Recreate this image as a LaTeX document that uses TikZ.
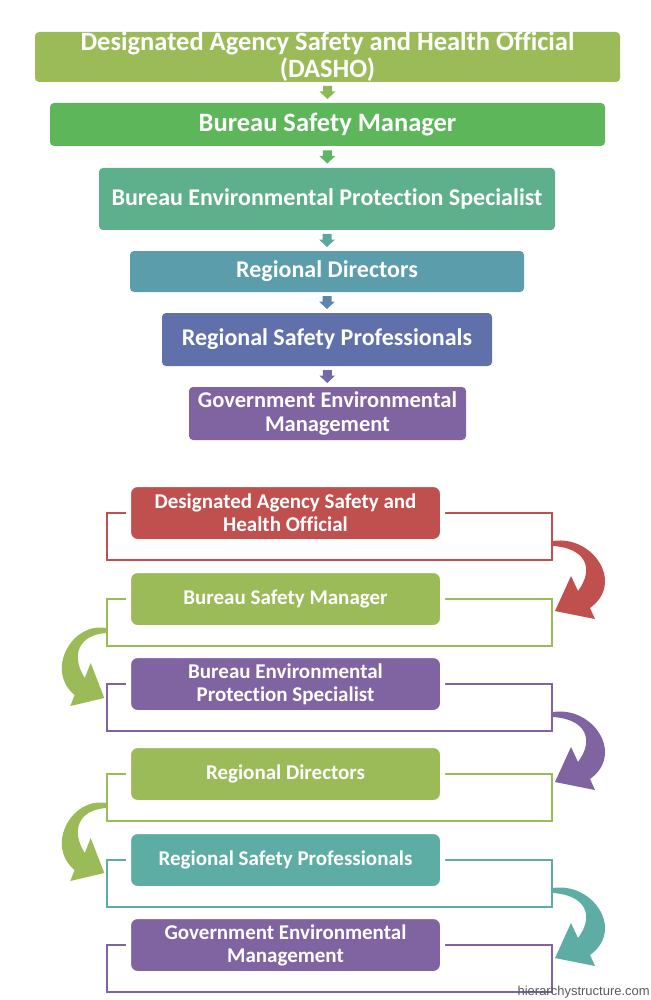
\documentclass[tikz,border=0pt]{standalone}
\usepackage{fontspec}
\setmainfont[Ligatures=NoCommon]{Carlito}
\newfontfamily\wmfont{Liberation Sans}
\usetikzlibrary{calc}
\definecolor{cOlive}{HTML}{9BBB59}
\definecolor{cGreen}{HTML}{5DB75A}
\definecolor{cSea}{HTML}{5DB08B}
\definecolor{cCyan}{HTML}{5B9DAB}
\definecolor{cBlue}{HTML}{6070AA}
\definecolor{cPurple}{HTML}{8064A2}
\definecolor{cRed}{HTML}{C0504D}
\definecolor{cTeal}{HTML}{5EADA5}
\definecolor{aA}{HTML}{8CBA58}
\definecolor{aB}{HTML}{5DB565}
\definecolor{aC}{HTML}{5CA79E}
\definecolor{aD}{HTML}{5D86AC}
\definecolor{aE}{HTML}{7568A7}
\definecolor{wmgray}{HTML}{5A5A5A}
\tikzset{
  tbox/.style={rectangle, rounded corners=4pt, inner sep=0pt, text=white, align=center,
    font=\bfseries\fontsize{24}{26}\selectfont},
  bbox/.style={rectangle, rounded corners=9pt, draw=white, line width=5pt, inner sep=0pt,
    minimum width=314pt, minimum height=57pt, text=white, align=center,
    font=\bfseries\fontsize{21}{23}\selectfont},
  frame/.style={line width=2.5pt},
  downarr/.pic={\fill[pic actions] (-4.5,-6.5) -- (4.5,-6.5) -- (4.5,-1) -- (8,-1) -- (0,6.5) -- (-8,-1) -- (-4.5,-1) -- cycle;},
  curvarr/.pic={\fill[pic actions] (0,-2) .. controls (40,-8) and (72,40) .. (37,65) -- (42,76) -- (2,68) -- (18,33) -- (25,48) .. controls (42,25) and (32,5) .. (0,3) -- cycle;}
}
\begin{document}
\begin{tikzpicture}[x=1pt,y=-1pt]
\useasboundingbox (0,0) rectangle (650,1000);
% ---------- top hierarchy ----------
\node[tbox, fill=cOlive, minimum width=585pt, minimum height=50pt, font=\bfseries\fontsize{26.5}{27}\selectfont] (t1) at (327.5,57) {Designated Agency Safety and Health Official\\(DASHO)};
\node[tbox, fill=cGreen, minimum width=555pt, minimum height=43pt, font=\bfseries\fontsize{26.5}{28}\selectfont] (t2) at (327.5,124.5) {Bureau Safety Manager};
\node[tbox, fill=cSea, minimum width=456pt, minimum height=62pt] (t3) at (327,199) {Bureau Environmental Protection Specialist};
\node[tbox, fill=cCyan, minimum width=394pt, minimum height=41pt] (t4) at (327,271.5) {Regional Directors};
\node[tbox, fill=cBlue, minimum width=330pt, minimum height=53pt] (t5) at (327,339.5) {Regional Safety Professionals};
\node[tbox, fill=cPurple, minimum width=277pt, minimum height=53pt, font=\bfseries\fontsize{22.5}{24}\selectfont] (t6) at (327.5,413.5) {Government Environmental\\Management};
\path ($(t1.south)!0.5!(t2.north)$) pic[fill=aA]{downarr};
\path ($(t2.south)!0.5!(t3.north)$) pic[fill=aB]{downarr};
\path ($(t3.south)!0.5!(t4.north)$) pic[fill=aC]{downarr};
\path ($(t4.south)!0.5!(t5.north)$) pic[fill=aD]{downarr};
\path ($(t5.south)!0.5!(t6.north)$) pic[fill=aE]{downarr};
% ---------- bottom process ----------
\draw[frame, cRed]    (107,513) rectangle (552,560);
\draw[frame, cOlive]  (107,599) rectangle (552,646);
\draw[frame, cPurple] (107,684) rectangle (552,731);
\draw[frame, cOlive]  (107,774) rectangle (552,821);
\draw[frame, cTeal]   (107,860) rectangle (552,907);
\draw[frame, cPurple] (107,945) rectangle (552,992);
\node[bbox, fill=cRed]    (b1) at (285.5,513) {Designated Agency Safety and\\Health Official};
\node[bbox, fill=cOlive]  (b2) at (285.5,599) {Bureau Safety Manager};
\node[bbox, fill=cPurple] (b3) at (285.5,684) {Bureau Environmental\\Protection Specialist};
\node[bbox, fill=cOlive]  (b4) at (285.5,774) {Regional Directors};
\node[bbox, fill=cTeal]   (b5) at (285.5,860) {Regional Safety Professionals};
\node[bbox, fill=cPurple] (b6) at (285.5,945) {Government Environmental\\Management};
\coordinate (r1) at (553,543);
\coordinate (l2) at (106,630);
\coordinate (r3) at (553,714);
\coordinate (l4) at (106,805);
\coordinate (r5) at (553,890);
\path (r1) pic[fill=cRed]{curvarr};
\path (l2) pic[fill=cOlive, xscale=-0.85]{curvarr};
\path (r3) pic[fill=cPurple]{curvarr};
\path (l4) pic[fill=cOlive, xscale=-0.85]{curvarr};
\path (r5) pic[fill=cTeal]{curvarr};
\node[anchor=base east, inner sep=0pt, text=wmgray, font=\wmfont\fontsize{13}{15}\selectfont] (wm) at (650,995) {hierarchystructure.com};
\end{tikzpicture}
\end{document}
